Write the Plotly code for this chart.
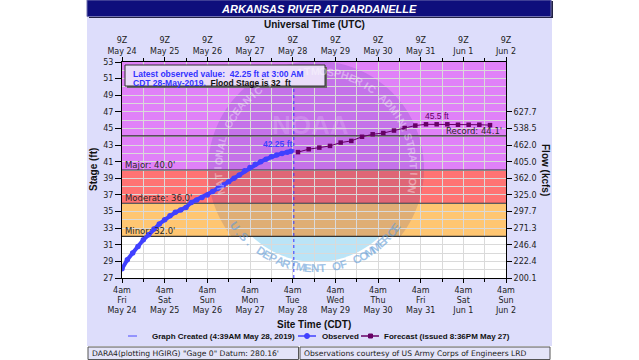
import numpy as np
import pandas as pd
import plotly.graph_objects as go

# ---------------- data ----------------
obs_time = [
    "2019-05-24 04:00", "2019-05-24 07:00", "2019-05-24 10:00", "2019-05-24 13:00",
    "2019-05-24 16:00", "2019-05-24 19:00", "2019-05-24 22:00",
    "2019-05-25 01:00", "2019-05-25 04:00", "2019-05-25 07:00", "2019-05-25 10:00",
    "2019-05-25 13:00", "2019-05-25 16:00", "2019-05-25 19:00", "2019-05-25 22:00",
    "2019-05-26 01:00", "2019-05-26 04:00", "2019-05-26 07:00", "2019-05-26 10:00",
    "2019-05-26 13:00", "2019-05-26 16:00", "2019-05-26 19:00", "2019-05-26 22:00",
    "2019-05-27 01:00", "2019-05-27 04:00", "2019-05-27 07:00", "2019-05-27 10:00",
    "2019-05-27 13:00", "2019-05-27 16:00", "2019-05-27 19:00", "2019-05-27 22:00",
    "2019-05-28 01:00", "2019-05-28 03:00",
]
obs_stage = [
    28.1, 29.2, 30.0, 30.8, 31.6, 32.2, 32.9,
    33.5, 34.0, 34.5, 34.9, 35.2, 35.5, 36.1, 36.4,
    36.7, 37.0, 37.4, 37.8, 38.2, 38.6, 39.0, 39.4,
    39.9, 40.3, 40.7, 41.0, 41.3, 41.6, 41.8, 42.0,
    42.15, 42.25,
]
fcst_time = [
    "2019-05-28 07:00", "2019-05-28 13:00", "2019-05-28 19:00",
    "2019-05-29 01:00", "2019-05-29 07:00", "2019-05-29 13:00", "2019-05-29 19:00",
    "2019-05-30 01:00", "2019-05-30 07:00", "2019-05-30 13:00", "2019-05-30 19:00",
    "2019-05-31 01:00", "2019-05-31 07:00", "2019-05-31 13:00", "2019-05-31 19:00",
    "2019-06-01 01:00", "2019-06-01 07:00", "2019-06-01 13:00", "2019-06-01 19:00",
]
fcst_stage = [
    42.15, 42.5, 42.7, 42.9, 43.3, 43.5, 44.0, 44.3, 44.45, 44.75,
    45.05, 45.35, 45.5, 45.5, 45.5, 45.45, 45.45, 45.45, 45.4,
]
tick_time = [
    "2019-05-24 04:00", "2019-05-25 04:00", "2019-05-26 04:00", "2019-05-27 04:00",
    "2019-05-28 04:00", "2019-05-29 04:00", "2019-05-30 04:00", "2019-05-31 04:00",
    "2019-06-01 04:00", "2019-06-02 04:00",
]
bottom_labels = [
    "4am<br>Fri<br>May 24", "4am<br>Sat<br>May 25", "4am<br>Sun<br>May 26",
    "4am<br>Mon<br>May 27", "4am<br>Tue<br>May 28", "4am<br>Wed<br>May 29",
    "4am<br>Thu<br>May 30", "4am<br>Fri<br>May 31", "4am<br>Sat<br>Jun 1",
    "4am<br>Sun<br>Jun 2",
]
top_labels = [
    "9Z<br>May 24", "9Z<br>May 25", "9Z<br>May 26", "9Z<br>May 27", "9Z<br>May 28",
    "9Z<br>May 29", "9Z<br>May 30", "9Z<br>May 31", "9Z<br>Jun 1", "9Z<br>Jun 2",
]
stage_ticks = [27, 29, 31, 33, 35, 37, 39, 41, 43, 45, 47, 49, 51, 53]
flow_tick_stage = [27, 29, 31, 33, 35, 37, 39, 41, 43, 45, 47]
flow_labels = ["200.1", "222.4", "246.4", "271.3", "297.7", "325.0",
               "362.0", "405.0", "462.0", "538.5", "627.7"]
flood_levels = [32.0, 36.0, 40.0]
flood_names = ["Minor", "Moderate", "Major"]
record_stage = 44.1
created_time = "2019-05-28 04:39"
latest_value = "42.25 ft"
crest_label = "45.5 ft"

# ---------------- geometry helpers ----------------
BASE = pd.Timestamp("2019-05-24 00:00")


def hrs(ts):
    return ((pd.to_datetime(pd.Series(ts)) - BASE) / pd.Timedelta(hours=1)).to_numpy()


obs_x = hrs(obs_time)
fc_x = hrs(fcst_time)
tick_x = hrs(tick_time)
created_x = hrs([created_time])[0]
X0, X1 = float(tick_x[0]), float(tick_x[-1])
Y0, Y1 = 27.0, 53.0

W, H = 639, 360
ML, MR, MT, MB = 122, 133, 62, 82
PW = W - ML - MR
PH = H - MT - MB


def px_x(px):
    return (px - ML) / PW


def px_y(py):
    return (H - MB - py) / PH


def d_x(px):
    return X0 + (px - ML) * (X1 - X0) / PW


def d_y(py):
    return Y1 - (py - MT) * (Y1 - Y0) / PH


TICKF = dict(family="DejaVu Sans", size=8, color="#222222")
BOLD = "Liberation Sans"

shapes = []
ann = []


def note(**kw):
    kw.setdefault("showarrow", False)
    kw.setdefault("xanchor", "center")
    kw.setdefault("yanchor", "middle")
    ann.append(kw)


# ---- panel, title bar, footer (paper) ----
shapes.append(dict(type="rect", xref="paper", yref="paper", layer="below",
                   x0=px_x(87), x1=px_x(552), y0=px_y(346), y1=px_y(0),
                   fillcolor="#DDDDFB", line=dict(width=0)))
shapes.append(dict(type="rect", xref="paper", yref="paper", layer="below",
                   x0=px_x(89), x1=px_x(553), y0=px_y(18), y1=px_y(1),
                   fillcolor="#222244", line=dict(width=0)))
shapes.append(dict(type="rect", xref="paper", yref="paper", layer="below",
                   x0=px_x(87), x1=px_x(551), y0=px_y(16.5), y1=px_y(0),
                   fillcolor="#0E0E7C", line=dict(color="#7070B0", width=1)))
shapes.append(dict(type="rect", xref="paper", yref="paper", layer="below",
                   x0=px_x(88), x1=px_x(298.5), y0=px_y(359.5), y1=px_y(347),
                   fillcolor="#E4E4F8", line=dict(color="#555555", width=1)))
shapes.append(dict(type="rect", xref="paper", yref="paper", layer="below",
                   x0=px_x(300), x1=px_x(550), y0=px_y(359.5), y1=px_y(347),
                   fillcolor="#E4E4F8", line=dict(color="#555555", width=1)))

# ---- flood bands (data) ----
band_edges = [Y0, flood_levels[0], flood_levels[1], flood_levels[2], Y1]
band_colors = ["#FFFFFF", "#FFC672", "#FF7373", "#E081F8"]
for i, c in enumerate(band_colors):
    shapes.append(dict(type="rect", xref="x", yref="y", layer="below",
                       x0=X0, x1=X1, y0=band_edges[i], y1=band_edges[i + 1],
                       fillcolor=c, line=dict(width=0)))

# ---- watermark (NOAA-like emblem) ----
WCX, WCY = 316, 169
SPLIT = 236


def cap_path(r, upper):
    a = np.degrees(np.arcsin(min(1.0, (SPLIT - WCY) / r)))
    if upper:
        th = np.radians(np.linspace(-a, 180 + a, 90))
    else:
        th = np.radians(np.linspace(180 + a, 360 - a, 60))
    pts = [(WCX + r * np.cos(t), WCY - r * np.sin(t)) for t in th]
    return "M " + " L ".join(f"{d_x(px):.4f},{d_y(py):.4f}" for px, py in pts) + " Z"


shapes.append(dict(type="path", xref="x", yref="y", layer="below",
                   path=cap_path(108, True), fillcolor="rgba(25,30,140,0.14)",
                   line=dict(width=0)))
shapes.append(dict(type="path", xref="x", yref="y", layer="below",
                   path=cap_path(93, False), fillcolor="rgba(90,190,235,0.42)",
                   line=dict(width=0)))

top_text = "NATIONAL OCEANIC AND ATMOSPHERIC ADMINISTRATION"
for ch, a in zip(top_text, np.linspace(193, -12, len(top_text))):
    if ch == " ":
        continue
    r = np.radians(a)
    note(x=d_x(WCX + 98 * np.cos(r)), y=d_y(WCY - 98 * np.sin(r)),
         xref="x", yref="y", text=f"<b>{ch}</b>", textangle=90 - a,
         font=dict(family=BOLD, size=10.5, color="rgba(255,255,255,0.4)"))
bot_text = "U.S. DEPARTMENT OF COMMERCE"
for ch, a in zip(bot_text, np.linspace(215, 324, len(bot_text))):
    if ch == " ":
        continue
    r = np.radians(a)
    note(x=d_x(WCX + 99 * np.cos(r)), y=d_y(WCY - 99 * np.sin(r)),
         xref="x", yref="y", text=f"<b>{ch}</b>", textangle=270 - a,
         font=dict(family=BOLD, size=11.5, color="rgba(95,155,215,0.6)"))
note(x=d_x(310), y=d_y(125), xref="x", yref="y", text="<b>NOAA</b>",
     font=dict(family=BOLD, size=26, color="rgba(255,255,255,0.16)"))

# ---- flood lines, record, created line ----
for lvl in flood_levels + [record_stage]:
    shapes.append(dict(type="line", xref="x", yref="y", layer="between",
                       x0=X0, x1=X1, y0=lvl, y1=lvl, line=dict(color="#333333", width=1.2)))
shapes.append(dict(type="line", xref="x", yref="y", layer="between",
                   x0=created_x, x1=created_x, y0=Y0, y1=Y1,
                   line=dict(color="#3535FF", width=1, dash="dot")))

for lvl, nm in zip(flood_levels, flood_names):
    note(x=X0, y=lvl, xref="x", yref="y", xanchor="left", yanchor="bottom",
         xshift=1, yshift=-2, text=f"{nm}: {lvl:.1f}'",
         font=dict(family="DejaVu Sans", size=8.5, color="#2a2a2a"))
note(x=X1, y=record_stage, xref="x", yref="y", xanchor="right", yanchor="bottom",
     xshift=-2, yshift=-2, text=f"Record: {record_stage:.1f}'",
     font=dict(family="DejaVu Sans", size=8.5, color="#2a2a2a"))

# value labels
note(x=obs_x[-1], y=obs_stage[-1], xref="x", yref="y", xanchor="right",
     yanchor="bottom", xshift=3, yshift=0, text=f"<b>{latest_value}</b>",
     font=dict(family=BOLD, size=8.5, color="#4040FF"))
note(x=fc_x[13], y=fcst_stage[13], xref="x", yref="y", xanchor="center",
     yanchor="bottom", yshift=1, text=crest_label,
     font=dict(family=BOLD, size=8.5, color="#660066"))

# ---- info box ----
shapes.append(dict(type="rect", xref="paper", yref="paper", layer="above",
                   x0=px_x(127), x1=px_x(327), y0=px_y(88), y1=px_y(67),
                   fillcolor="#666666", line=dict(width=0)))
shapes.append(dict(type="rect", xref="paper", yref="paper", layer="above",
                   x0=px_x(125), x1=px_x(325), y0=px_y(86), y1=px_y(65),
                   fillcolor="#EADDF9", line=dict(color="#333333", width=1)))
note(x=px_x(131), y=px_y(74), xref="paper", yref="paper", xanchor="left",
     text="<b>Latest observed value:  42.25 ft at 3:00 AM</b>",
     font=dict(family=BOLD, size=8.5, color="#3333FF"))
note(x=px_x(131), y=px_y(82.5), xref="paper", yref="paper", xanchor="left",
     text="<span style='color:#3333FF'><b>CDT 28-May-2019.</b></span><b>  Flood Stage is 32  ft</b>",
     font=dict(family=BOLD, size=8.5, color="#111111"))

# ---- titles ----
note(x=px_x(319), y=px_y(8.5), xref="paper", yref="paper",
     text="<b><i>ARKANSAS RIVER AT DARDANELLE</i></b>",
     font=dict(family=BOLD, size=11, color="white"))
note(x=0.5, y=px_y(24), xref="paper", yref="paper",
     text="<b>Universal Time (UTC)</b>",
     font=dict(family=BOLD, size=10, color="#111111"))
note(x=0.5, y=px_y(324), xref="paper", yref="paper",
     text="<b>Site Time (CDT)</b>",
     font=dict(family=BOLD, size=10, color="#111111"))
note(x=px_x(93), y=0.5, xref="paper", yref="paper",
     textangle=-90, text="<b>Stage (ft)</b>",
     font=dict(family=BOLD, size=10, color="#111111"))
note(x=px_x(546), y=0.5, xref="paper", yref="paper",
     textangle=90, text="<b>Flow (kcfs)</b>",
     font=dict(family=BOLD, size=10, color="#111111"))

# ---- manual legend ----
LY = px_y(336)
shapes.append(dict(type="line", xref="paper", yref="paper", x0=px_x(128), x1=px_x(145),
                   y0=LY, y1=LY, line=dict(color="#4B4BFF", width=1, dash="dash")))
shapes.append(dict(type="line", xref="paper", yref="paper", x0=px_x(298), x1=px_x(316),
                   y0=LY, y1=LY, line=dict(color="#4040FF", width=1.5)))
shapes.append(dict(type="circle", xref="paper", yref="paper",
                   x0=px_x(304.5), x1=px_x(309.5), y0=px_y(338.5), y1=px_y(333.5),
                   fillcolor="#4040FF", line=dict(color="#4040FF", width=1)))
shapes.append(dict(type="line", xref="paper", yref="paper", x0=px_x(361), x1=px_x(379),
                   y0=LY, y1=LY, line=dict(color="#660066", width=1.5)))
shapes.append(dict(type="rect", xref="paper", yref="paper",
                   x0=px_x(368.5), x1=px_x(372.5), y0=px_y(338), y1=px_y(334),
                   fillcolor="#660066", line=dict(color="#660066", width=1)))
LF = dict(family=BOLD, size=8, color="#111111")
note(x=px_x(150), y=LY, xref="paper", yref="paper", xanchor="left",
     text="<b>Graph Created (4:39AM May 28, 2019)</b>", font=LF)
note(x=px_x(320), y=LY, xref="paper", yref="paper", xanchor="left",
     text="<b>Observed</b>", font=LF)
note(x=px_x(382), y=LY, xref="paper", yref="paper", xanchor="left",
     text="<b>Forecast (issued 8:36PM May 27)</b>", font=LF)

# ---- footer text ----
FF = dict(family="DejaVu Sans", size=7.6, color="#222222")
note(x=px_x(90), y=px_y(353.5), xref="paper", yref="paper", xanchor="left",
     text="DARA4(plotting HGIRG) \"Gage 0\" Datum: 280.16'", font=FF)
note(x=px_x(302), y=px_y(353.5), xref="paper", yref="paper", xanchor="left",
     text="Observations courtesy of US Army Corps of Engineers LRD", font=FF)

# ---------------- figure ----------------
fig = go.Figure()
fig.add_trace(go.Scatter(
    x=obs_x, y=obs_stage, mode="lines+markers", name="Observed",
    line=dict(color="#4040FF", width=4), marker=dict(size=5.5, color="#4040FF"),
    showlegend=False, hoverinfo="skip"))
fig.add_trace(go.Scatter(
    x=fc_x, y=fcst_stage, mode="lines+markers", name="Forecast",
    xaxis="x2", yaxis="y2",
    line=dict(color="#660066", width=1), marker=dict(size=4.5, symbol="square", color="#660066"),
    showlegend=False, hoverinfo="skip"))

GRID = "#DADADA"
fig.update_layout(
    width=W, height=H,
    margin=dict(l=ML, r=MR, t=MT, b=MB, pad=0),
    paper_bgcolor="white", plot_bgcolor="white",
    showlegend=False, hovermode=False,
    xaxis=dict(range=[X0, X1], tickmode="array", tickvals=tick_x, ticktext=bottom_labels,
               ticks="outside", ticklen=4, tickcolor="black", tickfont=TICKF,
               showline=True, linecolor="black", linewidth=1,
               showgrid=True, gridcolor=GRID, gridwidth=1, zeroline=False,
               minor=dict(tick0=X0 + 12, dtick=24, ticks="outside", ticklen=3,
                          tickcolor="black", showgrid=True, gridcolor=GRID)),
    xaxis2=dict(range=[X0, X1], overlaying="x", side="top", anchor="y",
                tickmode="array", tickvals=tick_x, ticktext=top_labels,
                ticks="outside", ticklen=4, tickcolor="black", tickfont=TICKF,
                showline=True, linecolor="black", linewidth=1, showgrid=False, zeroline=False,
                minor=dict(tick0=X0 + 12, dtick=24, ticks="outside", ticklen=3,
                           tickcolor="black", showgrid=False)),
    yaxis=dict(range=[Y0, Y1], tickmode="array", tickvals=stage_ticks,
               ticks="outside", ticklen=6, tickcolor="black", tickfont=TICKF,
               showline=True, linecolor="black", linewidth=1,
               showgrid=True, gridcolor=GRID, gridwidth=1, zeroline=False,
               minor=dict(tick0=28, dtick=2, showgrid=True, gridcolor=GRID)),
    yaxis2=dict(range=[Y0, Y1], overlaying="y", side="right", anchor="x",
                tickmode="array", tickvals=flow_tick_stage, ticktext=flow_labels,
                ticks="outside", ticklen=5, tickcolor="black", tickfont=TICKF,
                showline=True, linecolor="black", linewidth=1, showgrid=False, zeroline=False),
    shapes=shapes,
    annotations=ann,
)

fig.write_html("out.html", config={"displayModeBar": False},
               post_script="document.body.style.margin='0px';document.body.style.overflow='hidden';")
